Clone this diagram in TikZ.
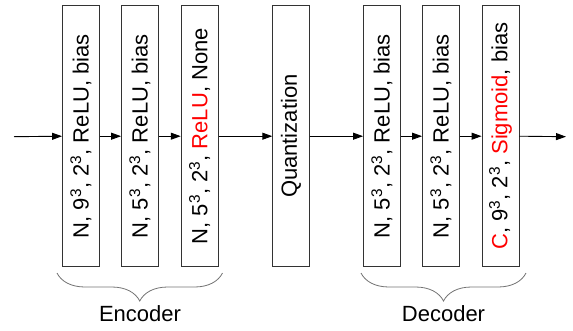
\documentclass[tikz,border=0pt]{standalone}
\usepackage{fontspec}
\setmainfont{Liberation Sans}
\usetikzlibrary{arrows.meta,decorations.pathreplacing}
\tikzset{
  layer/.style={draw=black!80, line width=0.9pt, fill=white, rotate=90,
    minimum width=261pt, minimum height=37pt, inner sep=0pt,
    font=\fontsize{22}{24}\selectfont},
  flow/.style={-{Triangle[length=10pt,width=7pt]}, line width=0.9pt, black},
  groupbrace/.style={decorate, decoration={brace, mirror, amplitude=28pt},
    draw=black!55, line width=0.8pt},
  grouplabel/.style={font=\fontsize{22}{24}\selectfont, inner sep=0pt}
}
\newcommand{\cube}{\textsuperscript{3}}
\begin{document}
\begin{tikzpicture}[x=1pt,y=-1pt]
  \useasboundingbox (0,0) rectangle (573,330);
  % encoder layers
  \node[layer] (e1) at (81,136.2) {N, 9\cube, 2\cube, ReLU, bias};
  \node[layer] (e2) at (140,136.2) {N, 5\cube, 2\cube, ReLU, bias};
  \node[layer] (e3) at (199.7,136.2) {N, 5\cube, 2\cube, \textcolor{red}{ReLU}, None};
  % quantization
  \node[layer, minimum height=36.3pt] (q) at (290.9,136.2) {Quantization};
  % decoder layers
  \node[layer] (d1) at (382,136.2) {N, 5\cube, 2\cube, ReLU, bias};
  \node[layer] (d2) at (441,136.2) {N, 5\cube, 2\cube, ReLU, bias};
  \node[layer] (d3) at (500.5,136.2) {\textcolor{red}{C}, 9\cube, 2\cube, \textcolor{red}{Sigmoid}, bias};
  % input and output ends
  \coordinate (in) at (14,136.7);
  \coordinate (out) at (566,136.7);
  % data flow
  \draw[flow] (in) -- (e1.north);
  \draw[flow] (e1.south) -- (e2.north);
  \draw[flow] (e2.south) -- (e3.north);
  \draw[flow] (e3.south) -- (q.north);
  \draw[flow] (q.south) -- (d1.north);
  \draw[flow] (d1.south) -- (d2.north);
  \draw[flow] (d2.south) -- (d3.north);
  \draw[flow] (d3.south) -- (out);
  % group braces
  \coordinate (encL) at (57,273);
  \coordinate (encR) at (222.5,273);
  \coordinate (decL) at (361,273);
  \coordinate (decR) at (526,273);
  \draw[groupbrace] (encL) -- (encR);
  \draw[groupbrace] (decL) -- (decR);
  \node[grouplabel] (enc) at (140,314) {Encoder};
  \node[grouplabel] (dec) at (443.5,314) {Decoder};
\end{tikzpicture}
\end{document}
